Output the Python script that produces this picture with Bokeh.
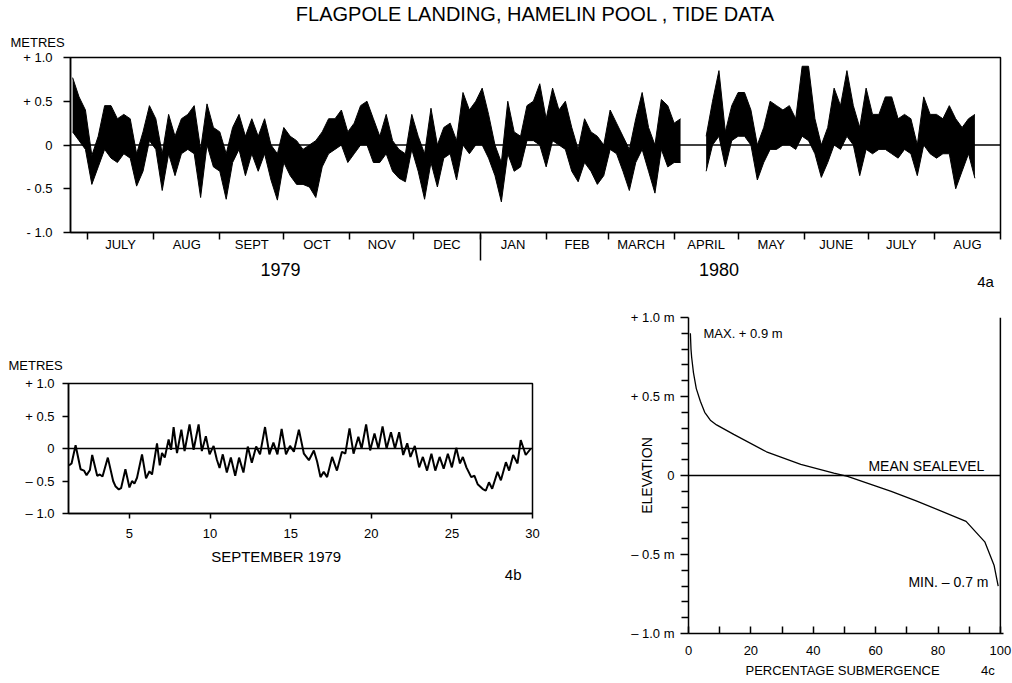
import math
from bokeh.plotting import figure
from bokeh.models import FixedTicker, Label, Range1d, ColumnDataSource, LinearAxis, Title
from bokeh.embed import file_html
from bokeh.resources import INLINE

FONT = "Liberation Sans"

# ---------------- 4a : tide record, days from 1 July 1979 ----------------
month_start = [0, 31, 62, 92, 123, 153, 184, 215, 244, 275, 305, 336, 366, 397, 428]
month_names = ["JULY", "AUG", "SEPT", "OCT", "NOV", "DEC", "JAN", "FEB", "MARCH",
               "APRIL", "MAY", "JUNE", "JULY", "AUG"]
year_start_day = 184
year_label_day = [90.5, 296]
year_names = ["1979", "1980"]
tide_first_day = -7
tide_step = 3
tide_high = [
    0.77, 0.55, 0.40, -0.12, 0.10, 0.45, 0.45, 0.30, 0.35, 0.30,
    -0.10, 0.15, 0.45, 0.30, -0.10, 0.35, 0.10, 0.30, 0.35, 0.45,
    -0.05, 0.47, 0.20, 0.15, -0.10, 0.20, 0.35, 0.10, 0.30, 0.10,
    0.30, 0.00, -0.10, 0.20, 0.10, 0.05, -0.05, 0.00, 0.05, 0.15,
    0.30, 0.30, 0.40, 0.15, 0.25, 0.45, 0.50, 0.30, 0.10, 0.35,
    0.05, -0.05, -0.10, 0.35, 0.10, -0.10, 0.42, 0.00, 0.20, 0.25,
    0.05, 0.60, 0.40, 0.50, 0.65, 0.35, 0.00, -0.20, 0.50, 0.15,
    0.10, 0.45, 0.50, 0.70, 0.30, 0.65, 0.40, 0.50, 0.20, -0.05,
    0.30, 0.15, 0.10, 0.00, 0.40, 0.25, 0.10, -0.05, 0.30, 0.60,
    0.20, 0.00, 0.52, 0.45, 0.25, 0.30, None, None, None, 0.10,
    0.50, 0.85, 0.15, 0.45, 0.60, 0.60, 0.40, 0.00, 0.20, 0.50,
    0.45, 0.40, 0.45, 0.30, 0.90, 0.90, 0.30, 0.00, 0.20, 0.65,
    0.45, 0.85, 0.45, 0.20, 0.65, 0.35, 0.35, 0.55, 0.55, 0.30,
    0.35, 0.30, 0.00, 0.55, 0.35, 0.35, 0.30, 0.45, 0.30, 0.20,
    0.30, 0.35]
tide_low = [
    0.15, 0.05, -0.05, -0.45, -0.25, -0.05, -0.15, -0.20, -0.10, -0.15,
    -0.47, -0.30, 0.05, -0.05, -0.52, -0.10, -0.35, -0.10, -0.05, -0.10,
    -0.60, 0.00, -0.25, -0.30, -0.62, -0.20, -0.05, -0.35, -0.10, -0.30,
    -0.10, -0.40, -0.63, -0.20, -0.35, -0.45, -0.45, -0.48, -0.60, -0.25,
    -0.10, -0.05, 0.00, -0.20, -0.10, 0.00, 0.00, -0.20, -0.20, -0.10,
    -0.30, -0.38, -0.42, -0.05, -0.30, -0.62, -0.20, -0.48, -0.15, -0.10,
    -0.40, 0.00, -0.10, 0.00, 0.00, -0.15, -0.35, -0.65, -0.10, -0.30,
    -0.25, 0.05, 0.05, 0.00, -0.25, 0.05, 0.00, -0.05, -0.30, -0.42,
    -0.20, -0.30, -0.45, -0.35, -0.05, -0.10, -0.30, -0.52, -0.20, -0.05,
    -0.30, -0.55, -0.05, -0.25, -0.20, -0.20, None, None, None, -0.30,
    0.00, 0.10, -0.25, 0.05, 0.10, 0.10, 0.00, -0.40, -0.20, -0.05,
    -0.05, 0.00, 0.00, -0.05, 0.10, 0.05, -0.10, -0.37, -0.20, 0.00,
    -0.05, 0.10, 0.00, -0.35, -0.05, -0.10, -0.05, -0.05, -0.10, -0.15,
    -0.05, -0.10, -0.35, 0.00, -0.10, -0.15, -0.10, -0.10, -0.50, -0.30,
    -0.10, -0.38]
level_ticks = [-1.0, -0.5, 0.0, 0.5, 1.0]
level_labels_a = ["- 1.0", "- 0.5", "0", "+ 0.5", "+ 1.0"]

# ---------------- 4b : September 1979 ----------------
sept_day = [1.25, 1.41, 1.66, 1.97, 2.18, 2.34, 2.55, 2.69, 3.0, 3.16,
            3.33, 3.66, 3.99, 4.13, 4.34, 4.48, 4.75, 5.0, 5.16, 5.31,
            5.47, 5.78, 6.03, 6.24, 6.4, 6.71, 6.88, 7.02, 7.19, 7.43,
            7.58, 7.74, 7.95, 8.22, 8.42, 8.73, 8.98, 9.29, 9.49, 9.74,
            9.97, 10.22, 10.42, 10.59, 10.79, 11.04, 11.29, 11.56, 11.8, 12.07,
            12.34, 12.59, 12.86, 13.1, 13.41, 13.68, 13.93, 14.18, 14.44, 14.71,
            14.96, 15.2, 15.51, 15.82, 16.13, 16.44, 16.64, 16.85, 17.05, 17.26,
            17.57, 17.87, 18.18, 18.39, 18.65, 18.9, 19.2, 19.4, 19.68, 19.93,
            20.2, 20.44, 20.7, 20.95, 21.22, 21.47, 21.73, 21.98, 22.23, 22.43,
            22.7, 22.97, 23.2, 23.46, 23.73, 23.97, 24.24, 24.49, 24.75, 25.0,
            25.27, 25.5, 25.68, 25.9, 26.2, 26.4, 26.6, 26.9, 27.1, 27.3,
            27.5, 27.83, 28.04, 28.35, 28.55, 28.8, 29.07, 29.27, 29.58, 29.9]
sept_level = [-0.26, -0.23, 0.05, -0.32, -0.34, -0.41, -0.33, -0.10, -0.42, -0.40,
              -0.43, -0.14, -0.50, -0.58, -0.63, -0.61, -0.32, -0.60, -0.50, -0.54,
              -0.45, -0.09, -0.46, -0.35, -0.40, 0.08, -0.26, -0.07, -0.14, 0.14,
              -0.02, 0.33, -0.07, 0.29, -0.04, 0.37, -0.02, 0.37, -0.04, 0.19,
              -0.09, 0.04, -0.17, -0.30, -0.09, -0.37, -0.14, -0.42, -0.14, -0.37,
              0.03, -0.22, 0.03, -0.09, 0.33, -0.09, 0.09, -0.09, 0.30, -0.09,
              0.04, -0.05, 0.29, -0.08, -0.18, -0.03, -0.20, -0.44, -0.36, -0.44,
              -0.13, -0.34, -0.05, -0.08, 0.31, -0.08, 0.18, 0.0, 0.37, -0.03,
              0.23, 0.0, 0.34, 0.0, 0.25, 0.0, 0.25, -0.10, 0.08, -0.13,
              0.04, -0.29, -0.13, -0.34, -0.08, -0.34, -0.13, -0.31, -0.08, -0.29,
              0.01, -0.23, -0.13, -0.29, -0.44, -0.42, -0.55, -0.62, -0.65, -0.52,
              -0.62, -0.36, -0.49, -0.21, -0.34, -0.10, -0.23, 0.13, -0.10, 0.0]
sept_ticks = [5, 10, 15, 20, 25, 30]
level_labels_b = ["\u2013 1.0", "\u2013 0.5", "0", "+ 0.5", "+ 1.0"]

# ---------------- 4c : submergence curve ----------------
elev = [0.90, 0.80, 0.75, 0.65, 0.55, 0.47, 0.40, 0.35, 0.32, 0.26, 0.15,
        0.07, 0.015, -0.006, -0.10, -0.16, -0.29, -0.42, -0.57, -0.67, -0.70]
submerge_pct = [0.6, 0.8, 1.0, 1.6, 2.5, 3.8, 5.2, 7.0, 9.0, 14.5, 25.0,
                36.0, 46.6, 51.0, 65.0, 73.0, 89.0, 95.0, 98.0, 99.0, 99.3]
pct_ticks = [0, 20, 40, 60, 80, 100]
pct_minor = [10, 30, 50, 70, 90]
elev_minor = [-0.9, -0.8, -0.7, -0.6, -0.4, -0.3, -0.2, -0.1,
              0.1, 0.2, 0.3, 0.4, 0.6, 0.7, 0.8, 0.9]
level_labels_c = ["\u2013 1.0 m", "\u2013 0.5 m", "0", "+ 0.5 m", "+ 1.0 m"]


def style_axis(ax, size="13px"):
    ax.axis_line_color = "black"
    ax.axis_line_width = 1.5
    ax.major_tick_line_color = "black"
    ax.major_tick_line_width = 1.5
    ax.minor_tick_line_color = "black"
    ax.minor_tick_line_width = 1.5
    ax.major_label_text_font = FONT
    ax.major_label_text_font_size = size
    ax.major_label_text_color = "black"
    ax.axis_label_text_font = FONT
    ax.axis_label_text_font_style = "normal"
    ax.axis_label_text_color = "black"


def text_axis(p, ticks, labels, size, standoff, minor=None):
    ax = LinearAxis(ticker=FixedTicker(ticks=ticks, minor_ticks=minor or []))
    style_axis(ax, size)
    ax.axis_line_color = None
    ax.major_tick_out = 0
    ax.major_tick_in = 0
    ax.minor_tick_out = 0
    ax.minor_tick_in = 0
    ax.major_label_standoff = standoff
    ax.major_label_overrides = {t: s for t, s in zip(ticks, labels)}
    p.add_layout(ax, "below")
    return ax


def make_fig(name, width, height, xr, yr, ml, mr, mt, mb, outline=True):
    p = figure(name=name, width=width, height=height, x_range=Range1d(*xr), y_range=Range1d(*yr),
               output_backend="svg", toolbar_location=None,
               min_border_left=ml, min_border_right=mr, min_border_top=mt, min_border_bottom=mb)
    p.grid.visible = False
    p.background_fill_color = None
    p.border_fill_color = None
    if outline:
        p.outline_line_color = "black"
        p.outline_line_width = 1.5
    else:
        p.outline_line_color = None
    for ax in list(p.xaxis) + list(p.yaxis):
        style_axis(ax)
    return p


def style_title(t, size, align, offset, standoff):
    t.text_font = FONT
    t.text_font_size = size
    t.text_font_style = "normal"
    t.text_color = "black"
    t.align = align
    t.offset = offset
    t.standoff = standoff


def lab(p, x, y, text, size="13px", align="left"):
    p.add_layout(Label(x=x, y=y, text=text, text_font=FONT, text_font_size=size,
                       text_align=align, text_baseline="middle", text_color="black"))


# ---------- figure 4a ----------
pa = make_fig("fa", 1012, 300, (-8, 428), (-1.0, 1.0), 70, 12, 55, 68)
month_mid = [(month_start[i] + month_start[i + 1]) / 2 for i in range(len(month_names))]
pa.xaxis.ticker = FixedTicker(ticks=month_mid, minor_ticks=month_start)
pa.xaxis.major_label_overrides = {m: n for m, n in zip(month_mid, month_names)}
pa.xaxis.major_tick_out = 0
pa.xaxis.major_tick_in = 0
pa.xaxis.minor_tick_out = 7
pa.xaxis.minor_tick_in = 0
pa.xaxis.major_label_standoff = -3
pa.yaxis.ticker = FixedTicker(ticks=level_ticks)
pa.yaxis.major_label_overrides = {t: s for t, s in zip(level_ticks, level_labels_a)}
pa.yaxis.major_tick_out = 7
pa.yaxis.major_tick_in = 0
pa.yaxis.major_label_standoff = 11

yr_ax = text_axis(pa, year_label_day, year_names, "18px", 2, minor=[year_start_day])
yr_ax.minor_tick_in = 20
yr_ax.minor_tick_out = 6
text_axis(pa, [421], ["4a"], "15px", -6)

pa.title.text = "FLAGPOLE LANDING, HAMELIN POOL , TIDE DATA"
style_title(pa.title, "20px", "center", -5, 0)
metres_a = Title(text="METRES")
style_title(metres_a, "13px", "left", -60, 16)
pa.add_layout(metres_a, "above")

tide_day = [tide_first_day + tide_step * i for i in range(len(tide_high))]
segs = []
cur = []
for d, h, l in zip(tide_day, tide_high, tide_low):
    if h is None:
        if cur:
            segs.append(cur)
        cur = []
    else:
        cur.append((d, h, l))
if cur:
    segs.append(cur)
for sg in segs:
    src = ColumnDataSource(dict(x=[s[0] for s in sg], hi=[s[1] for s in sg], lo=[s[2] for s in sg]))
    pa.varea(x="x", y1="lo", y2="hi", source=src, fill_color="black")
    pa.line(x="x", y="hi", source=src, line_color="black", line_width=1)
    pa.line(x="x", y="lo", source=src, line_color="black", line_width=1)
pa.line([-8, 428], [0, 0], line_color="black", line_width=1.3)

# ---------- figure 4b ----------
pb = make_fig("fb", 600, 383, (1.22, 30.0), (-1.0, 1.0), 68, 68, 83, 170)
pb.xaxis.ticker = FixedTicker(ticks=sept_ticks)
pb.xaxis.major_tick_out = 5
pb.xaxis.major_tick_in = 0
pb.xaxis.major_label_standoff = 10
pb.yaxis.ticker = FixedTicker(ticks=level_ticks)
pb.yaxis.major_label_overrides = {t: s for t, s in zip(level_ticks, level_labels_b)}
pb.yaxis.major_tick_out = 6
pb.yaxis.major_tick_in = 0
pb.yaxis.major_label_standoff = 8
text_axis(pb, [14.1], ["SEPTEMBER 1979"], "15px", 7)
text_axis(pb, [28.8], ["4b"], "15px", -2)
pb.title.text = "METRES"
style_title(pb.title, "13px", "left", -60, 22)
pb.line([1.22, 30.0], [0, 0], line_color="black", line_width=1.3)
pb.line(sept_day, sept_level, line_color="black", line_width=2)

# ---------- figure 4c ----------
pc = make_fig("fc", 412, 383, (0, 101), (-1.0, 1.0), 88, 9, 17, 50, outline=False)
pc.xaxis.ticker = FixedTicker(ticks=pct_ticks, minor_ticks=pct_minor)
pc.xaxis.major_tick_out = 0
pc.xaxis.major_tick_in = 7
pc.xaxis.minor_tick_out = 0
pc.xaxis.minor_tick_in = 7
pc.xaxis.major_label_standoff = 12
pc.yaxis.ticker = FixedTicker(ticks=level_ticks, minor_ticks=elev_minor)
pc.yaxis.major_label_overrides = {t: s for t, s in zip(level_ticks, level_labels_c)}
pc.yaxis.major_tick_out = 8
pc.yaxis.major_tick_in = 0
pc.yaxis.minor_tick_out = 7
pc.yaxis.minor_tick_in = 0
pc.yaxis.major_label_standoff = 6
pc.yaxis.axis_label = "ELEVATION"
pc.yaxis.axis_label_text_font_size = "14px"
pc.yaxis.axis_label_standoff = -27
text_axis(pc, [49.4, 96], ["PERCENTAGE SUBMERGENCE", "4c"], "13px", 5)
pc.line([0, 100], [0, 0], line_color="black", line_width=1.3)
pc.line([100, 100], [-1.0, 1.0], line_color="black", line_width=1.5)
pc.line(submerge_pct, elev, line_color="black", line_width=1.3)
lab(pc, 4.8, 0.90, "MAX. + 0.9 m", "13px", "left")
lab(pc, 57.7, 0.063, "MEAN  SEALEVEL", "14px", "left")
lab(pc, 70.5, -0.677, "MIN.  \u2013 0.7 m", "14px", "left")

TEMPLATE = """
{% block contents %}
{% from macros import embed %}
<div style="position:absolute; left:0px; top:0px;">{{ embed(roots.fa) }}</div>
<div style="position:absolute; left:0px; top:300px;">{{ embed(roots.fb) }}</div>
<div style="position:absolute; left:600px; top:300px;">{{ embed(roots.fc) }}</div>
{% endblock %}
"""

open("out.html", "w").write(file_html([pa, pb, pc], INLINE, template=TEMPLATE))
